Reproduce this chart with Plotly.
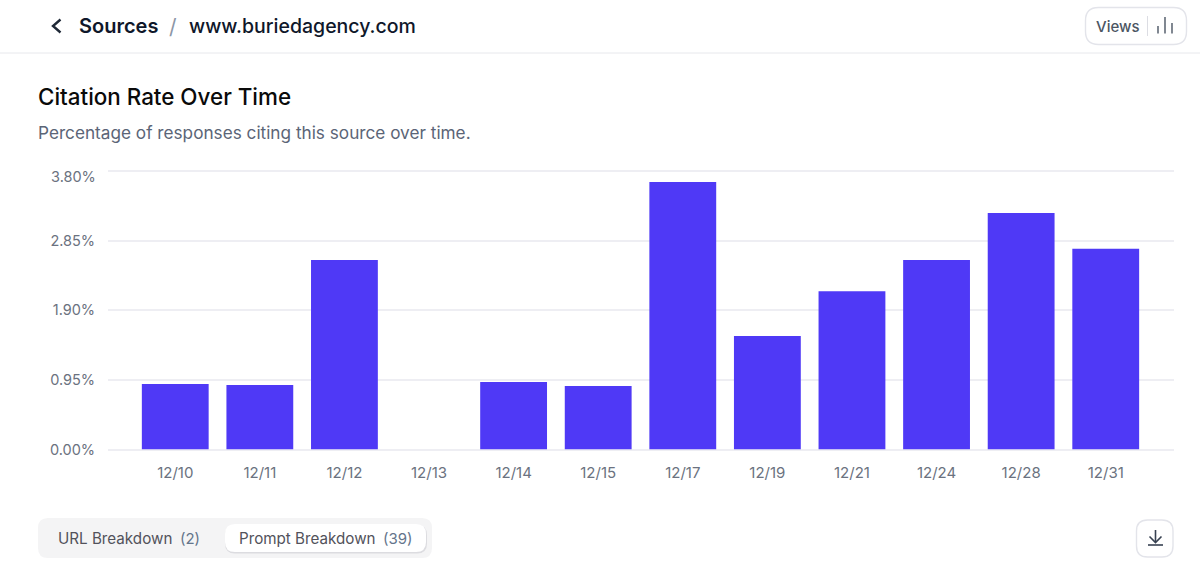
import plotly.graph_objects as go

W, H = 1200, 565
dates = ["12/10", "12/11", "12/12", "12/13", "12/14", "12/15", "12/17", "12/19", "12/21", "12/24", "12/28", "12/31"]
rates = [0.894, 0.88, 2.585, 0, 0.92, 0.866, 3.65, 1.55, 2.16, 2.585, 3.226, 2.74]
y_ticks = [0, 0.95, 1.90, 2.85, 3.80]
y_labels = [f"{v:.2f}%" for v in y_ticks]

INK = "#0f172a"
MUTED = "#5b6577"
AXIS_TEXT = "#6b7280"
BORDER = "#e3e4ea"
GRID = "#eeeef3"
FONT = "Inter"


def fx(x):
    return x / W


def fy(y):
    return 1 - y / H


def rrect(x0, y0, x1, y1, r, fill, line=None, width=1):
    X0, X1, Y0, Y1 = fx(x0), fx(x1), fy(y0), fy(y1)
    rx, ry = r / W, r / H
    path = (
        f"M{X0+rx},{Y0} L{X1-rx},{Y0} Q{X1},{Y0} {X1},{Y0-ry} L{X1},{Y1+ry} Q{X1},{Y1} {X1-rx},{Y1} "
        f"L{X0+rx},{Y1} Q{X0},{Y1} {X0},{Y1+ry} L{X0},{Y0-ry} Q{X0},{Y0} {X0+rx},{Y0} Z"
    )
    return dict(type="path", xref="paper", yref="paper", path=path, fillcolor=fill,
                line=dict(color=line or "rgba(0,0,0,0)", width=width if line else 0), layer="below")


def seg(points, color, width=1.5):
    path = "M" + " L".join(f"{fx(x)},{fy(y)}" for x, y in points)
    return dict(type="path", xref="paper", yref="paper", path=path,
                line=dict(color=color, width=width), layer="above")


def label(x, y, text, size, color, weight=400, anchor="left"):
    pad = 2 if anchor == "left" else -2
    return dict(xref="paper", yref="paper", x=fx(x - pad), y=fy(y), text=text, showarrow=False,
                xanchor=anchor, yanchor="middle", align="left",
                font=dict(family=FONT, size=size, color=color, weight=weight))


shapes = [
    seg([(0, 53), (1200, 53)], "#e7e8ec", 1),
    seg([(60.5, 19.5), (53, 26), (60.5, 32.5)], "#1f2937", 2.4),
    rrect(1085.5, 7.5, 1186.5, 44.5, 13, "#ffffff", BORDER, 1.4),
    seg([(1147.5, 16), (1147.5, 36)], "#dcdde3", 1),
    seg([(1158, 26), (1158, 33.5)], "#4b5563", 1.4),
    seg([(1165, 17), (1165, 33.5)], "#4b5563", 1.4),
    seg([(1172, 23), (1172, 33.5)], "#4b5563", 1.4),
    rrect(38, 518, 432, 558, 10, "#f4f4f5"),
    rrect(225, 525, 427, 553.5, 10, "#dcdce0"),
    rrect(225, 524, 426, 552, 10, "#ffffff"),
    rrect(1136.5, 520, 1173, 557, 11, "#ffffff", BORDER, 1.4),
    seg([(1155.5, 530), (1155.5, 542)], "#374151", 1.6),
    seg([(1149.5, 536.5), (1155.5, 542.5), (1161.5, 536.5)], "#374151", 1.6),
    seg([(1148, 545), (1163, 545)], "#374151", 1.6),
]

annotations = [
    label(79, 26, "Sources", 20, INK, 600),
    label(169, 26, "/", 21, "#8c96a6", 400),
    label(189, 26, "www.buriedagency.com", 19.5, INK, 500),
    label(38, 96, "Citation Rate Over Time", 22.4, "#0a0a0a", 500),
    label(38, 132, "Percentage of responses citing this source over time.", 17.2, MUTED),
    label(1096, 26, "Views", 15, "#4b5563", 500),
    label(58, 538, "URL Breakdown", 15.2, "#52525b", 400),
    label(180, 538, "(2)", 15, "#64748b", 400),
    label(239, 538, "Prompt Breakdown", 15.2, "#52525b", 400),
    label(383, 538, "(39)", 15, "#64748b", 400),
    label(96, 176, y_labels[-1], 14.5, AXIS_TEXT, anchor="right"),
]

fig = go.Figure(
    go.Bar(x=list(range(len(dates))), y=rates, width=0.79, marker=dict(color="#4f39f6", line=dict(width=0)),
           hoverinfo="skip")
)
fig.update_layout(
    width=W, height=H, margin=dict(l=0, r=0, t=0, b=0, pad=0, autoexpand=False), autosize=False,
    paper_bgcolor="white", plot_bgcolor="white", showlegend=False,
    shapes=shapes, annotations=annotations,
    font=dict(family=FONT),
    xaxis=dict(domain=[fx(108), fx(1174)], range=[-0.795, 11.807], tickmode="array",
               tickvals=list(range(len(dates))), ticktext=dates, showgrid=False, zeroline=False,
               showline=False, ticks="outside", ticklen=9, tickcolor="rgba(0,0,0,0)",
               tickfont=dict(family=FONT, size=15, color=AXIS_TEXT), fixedrange=True),
    yaxis=dict(domain=[fy(449.5), fy(165)], range=[0, 3.8819], tickmode="array", tickvals=y_ticks,
               ticktext=y_labels[:-1] + [""], showgrid=True, gridcolor=GRID, gridwidth=1.6,
               zeroline=True, zerolinecolor=GRID, zerolinewidth=1.6, showline=False,
               ticks="outside", ticklen=9, tickcolor="rgba(0,0,0,0)",
               tickfont=dict(family=FONT, size=14.5, color=AXIS_TEXT), fixedrange=True),
)
fig.write_html("out.html", config=dict(displayModeBar=False),
               post_script="document.body.style.margin='0';document.body.style.overflow='hidden';")
